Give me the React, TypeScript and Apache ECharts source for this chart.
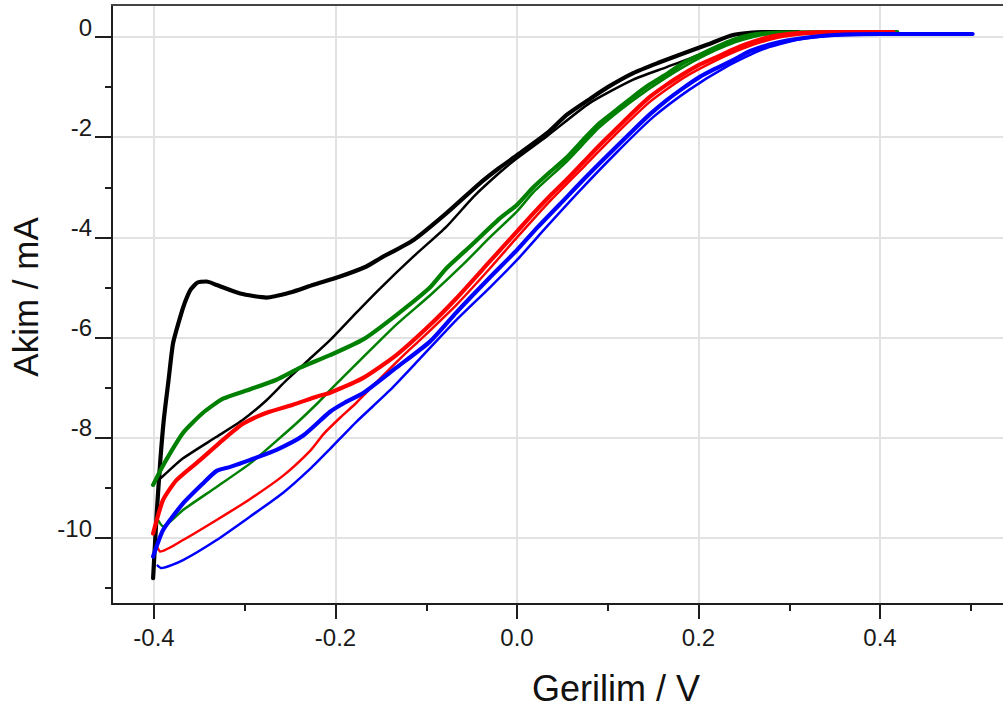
import React, { useEffect, useRef } from "react";
import * as echarts from "echarts";

// Axis ticks
const xMajorTicks = [-0.4, -0.2, 0.0, 0.2, 0.4];
const xMinorTicks = [-0.3, -0.1, 0.1, 0.3, 0.5];
const yMajorTicks = [-10, -8, -6, -4, -2, 0];
const yMinorTicks = [-11, -9, -7, -5, -3, -1];

const xTitle = "Gerilim / V";
const yTitle = "Akim / mA";

// Black curve (thick = cathodic sweep, thin = return sweep)
const blackForward: number[][] = [
  [0.31, 0.1], [0.27, 0.1], [0.238, 0.04], [0.21, -0.15], [0.183, -0.33], [0.155, -0.52],
  [0.128, -0.72], [0.1, -1.0], [0.08, -1.24], [0.055, -1.55], [0.033, -1.92], [0.0, -2.36],
  [-0.02, -2.62], [-0.041, -2.92], [-0.078, -3.52], [-0.114, -4.05], [-0.151, -4.42],
  [-0.166, -4.58], [-0.195, -4.78], [-0.225, -4.95], [-0.25, -5.1], [-0.276, -5.2],
  [-0.305, -5.12], [-0.331, -4.95], [-0.342, -4.88], [-0.352, -4.9], [-0.36, -5.05],
  [-0.366, -5.3], [-0.371, -5.58], [-0.379, -6.11], [-0.384, -6.85], [-0.389, -7.6],
  [-0.393, -8.44], [-0.397, -9.5], [-0.401, -10.8],
];
const blackReturn: number[][] = [
  [-0.396, -8.85], [-0.393, -8.81], [-0.368, -8.41], [-0.331, -7.98], [-0.302, -7.64],
  [-0.276, -7.25], [-0.254, -6.85], [-0.23, -6.45], [-0.206, -6.05], [-0.177, -5.5],
  [-0.151, -5.02], [-0.114, -4.38], [-0.078, -3.79], [-0.048, -3.19], [-0.02, -2.72],
  [0.0, -2.42], [0.033, -1.98], [0.08, -1.32], [0.128, -0.85], [0.165, -0.6], [0.2, -0.36],
  [0.23, -0.12], [0.26, 0.04], [0.29, 0.1],
];

// Green curve
const greenForward: number[][] = [
  [0.419, 0.1], [0.35, 0.1], [0.29, 0.09], [0.257, 0.04], [0.238, -0.06], [0.22, -0.2],
  [0.201, -0.36], [0.183, -0.52], [0.165, -0.74], [0.146, -0.95], [0.128, -1.19],
  [0.11, -1.45], [0.091, -1.72], [0.073, -2.05], [0.055, -2.4], [0.036, -2.7], [0.018, -3.0],
  [0.0, -3.35], [-0.019, -3.62], [-0.05, -4.15], [-0.078, -4.62], [-0.096, -5.0],
  [-0.133, -5.55], [-0.169, -6.03], [-0.206, -6.35], [-0.239, -6.6], [-0.265, -6.84],
  [-0.294, -7.03], [-0.324, -7.22], [-0.346, -7.5], [-0.368, -7.9], [-0.382, -8.3],
  [-0.393, -8.65], [-0.401, -8.94],
];
const greenReturn: number[][] = [
  [-0.397, -9.6], [-0.39, -9.77], [-0.368, -9.44], [-0.331, -8.98], [-0.294, -8.51],
  [-0.265, -8.06], [-0.243, -7.71], [-0.221, -7.33], [-0.206, -7.05], [-0.169, -6.38],
  [-0.133, -5.74], [-0.096, -5.16], [-0.06, -4.55], [-0.03, -4.0], [0.0, -3.48],
  [0.018, -3.1], [0.055, -2.48], [0.091, -1.8], [0.128, -1.26], [0.165, -0.8], [0.201, -0.42],
  [0.238, -0.12], [0.27, 0.04], [0.3, 0.09],
];

// Red curve
const redForward: number[][] = [
  [0.415, 0.1], [0.35, 0.1], [0.31, 0.08], [0.286, 0.03], [0.27, -0.04], [0.253, -0.14],
  [0.237, -0.26], [0.22, -0.4], [0.2, -0.56], [0.183, -0.74], [0.165, -0.95], [0.146, -1.2],
  [0.128, -1.5], [0.11, -1.82], [0.091, -2.16], [0.073, -2.5], [0.055, -2.84], [0.036, -3.18],
  [0.018, -3.52], [0.0, -3.88], [-0.03, -4.48], [-0.067, -5.22], [-0.096, -5.75],
  [-0.133, -6.35], [-0.169, -6.8], [-0.206, -7.1], [-0.221, -7.18], [-0.247, -7.34],
  [-0.276, -7.5], [-0.302, -7.72], [-0.324, -8.04], [-0.349, -8.44], [-0.375, -8.84],
  [-0.39, -9.24], [-0.401, -9.91],
];
const redReturn: number[][] = [
  [-0.396, -10.2], [-0.393, -10.27], [-0.368, -10.04], [-0.331, -9.64], [-0.294, -9.22],
  [-0.258, -8.76], [-0.228, -8.26], [-0.213, -7.92], [-0.195, -7.6], [-0.177, -7.3],
  [-0.158, -6.95], [-0.14, -6.62], [-0.122, -6.3], [-0.107, -6.05], [-0.067, -5.35],
  [-0.03, -4.62], [0.0, -4.0], [0.036, -3.28], [0.073, -2.6], [0.11, -1.92], [0.146, -1.3],
  [0.183, -0.82], [0.22, -0.46], [0.253, -0.2], [0.286, -0.02], [0.32, 0.06], [0.36, 0.09],
];

// Blue curve
const blueForward: number[][] = [
  [0.502, 0.06], [0.45, 0.06], [0.4, 0.06], [0.35, 0.04], [0.312, -0.03], [0.285, -0.12],
  [0.257, -0.28], [0.238, -0.46], [0.22, -0.62], [0.201, -0.8], [0.183, -1.02], [0.165, -1.26],
  [0.146, -1.55], [0.128, -1.86], [0.11, -2.18], [0.091, -2.52], [0.073, -2.85], [0.055, -3.19],
  [0.023, -3.79], [0.0, -4.25], [-0.03, -4.8], [-0.067, -5.5], [-0.096, -6.08],
  [-0.133, -6.6], [-0.169, -7.1], [-0.19, -7.3], [-0.206, -7.48], [-0.236, -7.96],
  [-0.265, -8.24], [-0.294, -8.44], [-0.316, -8.58], [-0.331, -8.66], [-0.346, -8.91],
  [-0.368, -9.31], [-0.39, -9.84], [-0.401, -10.37],
];
const blueReturn: number[][] = [
  [-0.396, -10.55], [-0.392, -10.6], [-0.368, -10.44], [-0.331, -10.04], [-0.294, -9.57],
  [-0.258, -9.1], [-0.228, -8.62], [-0.206, -8.22], [-0.177, -7.68], [-0.14, -7.05],
  [-0.107, -6.42], [-0.067, -5.65], [-0.03, -5.0], [0.0, -4.45], [0.032, -3.8], [0.07, -3.05],
  [0.11, -2.3], [0.15, -1.6], [0.19, -1.05], [0.23, -0.6], [0.27, -0.25], [0.31, -0.05],
  [0.35, 0.03], [0.4, 0.05],
];

const curves = [
  { name: "black", color: "#000000", forward: blackForward, back: blackReturn },
  { name: "green", color: "#008000", forward: greenForward, back: greenReturn },
  { name: "red", color: "#ff0000", forward: redForward, back: redReturn },
  { name: "blue", color: "#0000ff", forward: blueForward, back: blueReturn },
];

const X_MIN = -0.4463;
const X_MAX = 0.5355;
const Y_MIN = -11.317;
const Y_MAX = 0.639;

const FONT = '"Liberation Sans", Arial, sans-serif';
const AXIS_COLOR = "#1e1e1e";

export default function App() {
  const ref = useRef<HTMLDivElement>(null);

  useEffect(() => {
    if (!ref.current) return;
    const chart = echarts.init(ref.current, undefined, { renderer: "svg" });

    const series: any[] = [];
    curves.forEach((c) => {
      series.push({
        name: c.name + " forward",
        type: "line",
        data: c.forward,
        showSymbol: false,
        smooth: 0.2,
        lineStyle: { color: c.color, width: 4.2, join: "round", cap: "round" },
        itemStyle: { color: c.color },
        silent: true,
      });
      series.push({
        name: c.name + " return",
        type: "line",
        data: c.back,
        showSymbol: false,
        smooth: 0.2,
        lineStyle: { color: c.color, width: 2.5, join: "round", cap: "round" },
        itemStyle: { color: c.color },
        silent: true,
      });
    });

    chart.setOption({
      animation: false,
      backgroundColor: "#ffffff",
      grid: { left: 112, right: 0, top: 5, bottom: 107, containLabel: false },
      xAxis: [
        {
          type: "value",
          min: X_MIN,
          max: X_MAX,
          interval: 0.2,
          position: "bottom",
          axisLine: { show: true, onZero: false, lineStyle: { color: AXIS_COLOR, width: 2 } },
          axisTick: {
            show: true,
            length: 15,
            customValues: xMajorTicks,
            lineStyle: { color: AXIS_COLOR, width: 2 },
          },
          axisLabel: {
            show: true,
            customValues: xMajorTicks,
            formatter: (v: number) => v.toFixed(1),
            margin: 21,
            fontSize: 24,
            lineHeight: 24,
            fontFamily: FONT,
            color: "#1a1a1a",
          },
          splitLine: { show: true, lineStyle: { color: "#e2e2e2", width: 2 } },
        },
        {
          type: "value",
          min: X_MIN,
          max: X_MAX,
          interval: 0.2,
          position: "bottom",
          axisLine: { show: false, onZero: false },
          axisTick: {
            show: true,
            length: 7,
            customValues: xMinorTicks,
            lineStyle: { color: AXIS_COLOR, width: 2 },
          },
          axisLabel: { show: false },
          splitLine: { show: false },
        },
        {
          type: "value",
          min: X_MIN,
          max: X_MAX,
          position: "top",
          axisLine: { show: true, onZero: false, lineStyle: { color: "#444", width: 2 } },
          axisTick: { show: false },
          axisLabel: { show: false },
          splitLine: { show: false },
        },
      ],
      yAxis: [
        {
          type: "value",
          min: Y_MIN,
          max: Y_MAX,
          interval: 2,
          position: "left",
          axisLine: { show: true, onZero: false, lineStyle: { color: AXIS_COLOR, width: 2 } },
          axisTick: {
            show: true,
            length: 17,
            customValues: yMajorTicks,
            lineStyle: { color: AXIS_COLOR, width: 2 },
          },
          axisLabel: {
            show: true,
            customValues: yMajorTicks,
            formatter: (v: number) => String(v),
            margin: 20,
            fontSize: 24,
            lineHeight: 20,
            verticalAlign: "bottom",
            fontFamily: FONT,
            color: "#1a1a1a",
          },
          splitLine: { show: true, lineStyle: { color: "#e2e2e2", width: 2 } },
        },
        {
          type: "value",
          min: Y_MIN,
          max: Y_MAX,
          interval: 2,
          position: "left",
          axisLine: { show: false, onZero: false },
          axisTick: {
            show: true,
            length: 7,
            customValues: yMinorTicks,
            lineStyle: { color: AXIS_COLOR, width: 2 },
          },
          axisLabel: { show: false },
          splitLine: { show: false },
        },
      ],
      graphic: [
        {
          type: "text",
          x: 616,
          y: 688,
          silent: true,
          style: {
            text: xTitle,
            fontSize: 36,
            fontFamily: FONT,
            fill: "#111111",
            align: "center",
            verticalAlign: "middle",
            textAlign: "center",
            textVerticalAlign: "middle",
          },
        },
        {
          type: "text",
          x: 25,
          y: 297,
          rotation: Math.PI / 2,
          silent: true,
          style: {
            text: yTitle,
            fontSize: 35,
            fontFamily: FONT,
            fill: "#111111",
            align: "center",
            verticalAlign: "middle",
            textAlign: "center",
            textVerticalAlign: "middle",
          },
        },
      ],
      series,
    });

    return () => {
      chart.dispose();
    };
  }, []);

  return (
    <div
      ref={ref}
      style={{ position: "absolute", left: 0, top: 0, width: 1003, height: 711, background: "#fff" }}
    />
  );
}
